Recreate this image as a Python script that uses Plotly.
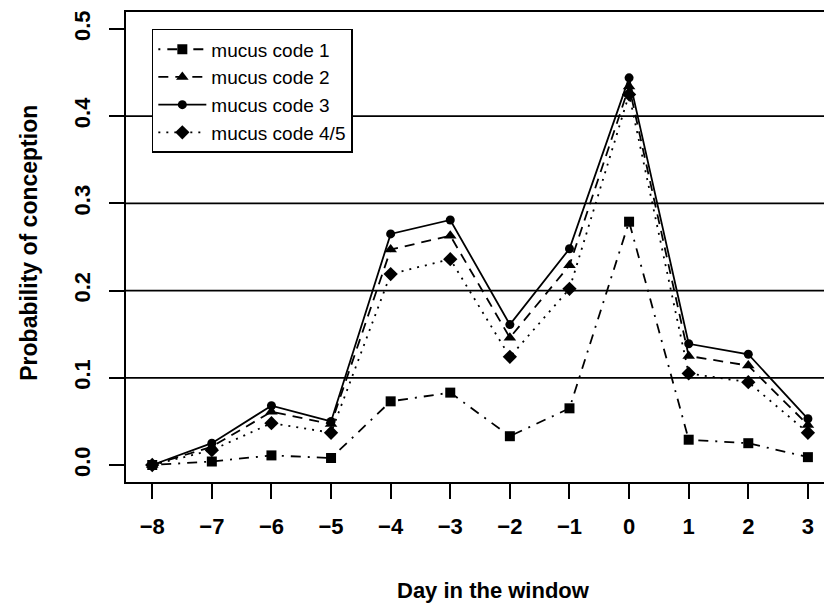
import plotly.graph_objects as go

# Day relative to ovulation
days = [-8, -7, -6, -5, -4, -3, -2, -1, 0, 1, 2, 3]

# Probability of conception by cervical mucus code
mucus_1 = [0.000, 0.004, 0.011, 0.008, 0.073, 0.083, 0.033, 0.065, 0.279, 0.029, 0.025, 0.009]
mucus_2 = [0.000, 0.021, 0.061, 0.047, 0.247, 0.263, 0.146, 0.229, 0.434, 0.125, 0.114, 0.046]
mucus_3 = [0.000, 0.025, 0.068, 0.050, 0.265, 0.281, 0.161, 0.248, 0.444, 0.139, 0.127, 0.053]
mucus_45 = [0.000, 0.017, 0.048, 0.037, 0.219, 0.236, 0.124, 0.202, 0.425, 0.105, 0.095, 0.037]

series_names = ["mucus code 1", "mucus code 2", "mucus code 3", "mucus code 4/5"]

y_ticks = [0.0, 0.1, 0.2, 0.3, 0.4, 0.5]
y_tick_text = ["0.0", "0.1", "0.2", "0.3", "0.4", "0.5"]
grid_levels = [0.1, 0.2, 0.3, 0.4]

FONT = "Liberation Sans, Arial, Helvetica, sans-serif"

styles = [
    dict(dash="2px,7px,10px,7px", symbol="square", size=10),
    dict(dash="10px,7px", symbol="triangle-up", size=11),
    dict(dash="solid", symbol="circle", size=9),
    dict(dash="2px,6px", symbol="diamond", size=11),
]

fig = go.Figure()
for name, vals, st in zip(series_names, [mucus_1, mucus_2, mucus_3, mucus_45], styles):
    fig.add_trace(go.Scatter(
        x=days, y=vals, name=name, mode="lines+markers",
        line=dict(color="black", width=1.8, dash=st["dash"]),
        marker=dict(color="black", symbol=st["symbol"], size=st["size"]),
    ))

# horizontal reference lines
for lvl in grid_levels:
    fig.add_shape(type="line", xref="paper", x0=0, x1=1, yref="y", y0=lvl, y1=lvl,
                  line=dict(color="black", width=1.8), layer="below")

fig.update_layout(
    width=824, height=604,
    margin=dict(l=126, r=0, t=12, b=122),
    paper_bgcolor="white", plot_bgcolor="white",
    font=dict(family=FONT, color="black"),
    showlegend=True,
    legend=dict(
        x=0.037, y=0.964, xanchor="left", yanchor="top",
        bordercolor="black", borderwidth=1.5, bgcolor="white",
        font=dict(family=FONT, size=19, color="black"),
        itemwidth=48, tracegroupgap=0,
    ),
    xaxis=dict(
        range=[-8.44, 3.27], tickmode="array", tickvals=days,
        showgrid=False, zeroline=False,
        showline=True, linecolor="black", linewidth=2, mirror=True,
        ticks="outside", ticklen=15, tickwidth=1.8, tickcolor="black",
        ticklabelstandoff=9,
        tickfont=dict(family=FONT, size=22, weight="bold", color="black"),
    ),
    yaxis=dict(
        range=[-0.0195, 0.5195], tickmode="array", tickvals=y_ticks, ticktext=y_tick_text,
        showgrid=False, zeroline=False,
        showline=True, linecolor="black", linewidth=2, mirror=False,
        ticks="outside", ticklen=15, tickwidth=1.8, tickcolor="black", tickangle=-90,
        ticklabelstandoff=10,
        tickfont=dict(family=FONT, size=22, weight="bold", color="black"),
    ),
    annotations=[
        dict(text="Day in the window", xref="paper", yref="paper", x=0.526, y=-0.23,
             xanchor="center", yanchor="middle", showarrow=False,
             font=dict(family=FONT, size=22, weight="bold", color="black")),
        dict(text="Probability of conception", xref="paper", yref="paper", x=-0.139, y=0.509,
             xanchor="center", yanchor="middle", showarrow=False, textangle=-90,
             font=dict(family=FONT, size=23, weight="bold", color="black")),
    ],
)

fig.write_html("out.html")
